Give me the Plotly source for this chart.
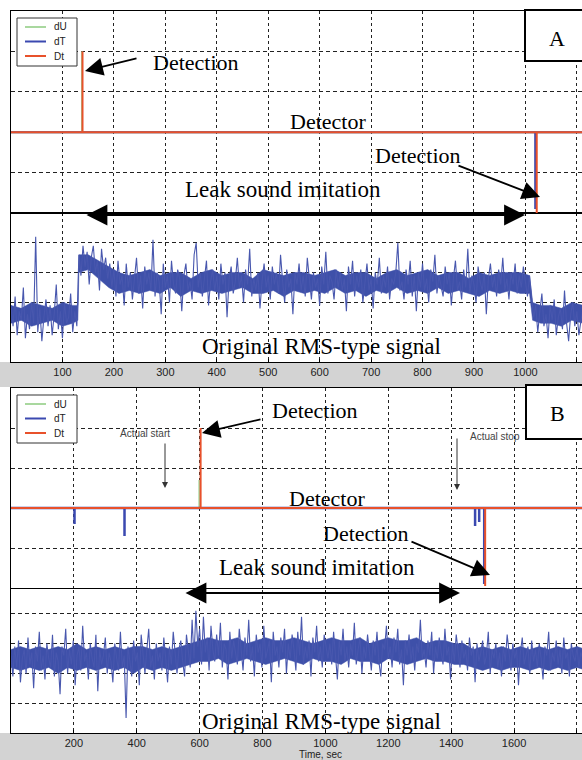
import plotly.graph_objects as go

W, H = 582, 760

# ---------------- DATA ----------------
# Panel A: RMS-type signal sampled every 4 s (normalized units 0..5)
a_time = list(range(0, 1116, 4))
a_signal = (
    [1.9,1.2,2.2,0.9,1.7,1.4,2.5,0.8,1.6,1.1,2.0,1.3,4.2,1.0,1.8,0.7,1.5,2.1,1.2,1.9,0.9,1.6,2.6,1.1,1.7,0.8,2.0,1.3,1.5,2.3,1.0,1.7,1.2]
    + [3.6,2.9,3.9,3.2,3.7,2.6,3.5,3.9,3.0,3.4,2.4,3.8,3.1,3.5,2.8,3.3,2.5]
    + [3.1,2.2,3.4,2.6,2.9,1.9,3.3,2.5,3.0,2.1,
       2.8,3.5,2.3,2.9,1.8,3.2,2.6,3.0,2.4,4.1,
       2.2,3.0,2.7,1.6,3.3,2.5,2.9,2.0,3.4,2.6,
       2.3,3.1,2.8,1.7,2.9,3.3,2.4,2.7,2.1,3.6,
       4.0,2.5,3.0,2.2,2.8,3.4,1.9,2.7,3.1,2.4,
       2.9,2.1,3.3,2.6,3.0,1.5,2.8,3.2,2.3,2.7,
       3.5,2.5,2.9,2.0,3.1,2.6,3.8,2.2,2.8,2.4,
       3.0,1.8,2.7,3.3,2.5,2.9,2.1,3.2,2.6,3.0,
       2.3,3.6,2.7,2.0,3.1,2.5,2.8,1.6,3.0,2.6,
       3.3,2.4,2.9,2.2,3.5,2.7,2.1,3.0,2.5,2.8,
       1.9,3.2,2.6,3.7,2.3,2.9,2.7,2.1,3.1,2.5,
       3.0,2.4,2.8,1.7,3.2,2.6,3.4,2.2,2.9,2.5,
       3.1,2.0,2.7,3.3,2.4,2.8,1.8,3.0,2.6,3.5,
       2.3,2.9,2.5,3.2,2.1,2.8,2.6,3.0,4.0,2.4,
       2.7,2.1,3.1,2.6,3.4,2.2,2.9,1.7,3.0,2.5,
       3.3,2.4,2.8,2.0,3.1,2.7,3.6,2.3,2.9,2.5,
       2.2,3.2,2.6,3.0,1.9,2.8,3.4,2.4,2.7,2.1,
       3.1,2.5,3.8,2.3,2.9,2.6,2.0,3.2,2.7,2.4,
       3.0,1.6,2.8,3.3,2.5,2.9,2.2,3.1,2.6,3.5,
       2.4,2.8,2.1,3.0,2.6,3.3,2.3,2.9,2.5,3.2,
       2.7,2.2,2.9]
    + [2.2,1.5,1.9,1.0,1.7,2.3,1.2,1.6,0.8,1.9,1.4,2.1,0.9,1.5,1.8,1.1,2.4,1.3,0.7,1.6,2.0,1.2,1.7,0.9,1.4,1.8]
)
# Panel A: dense core band of the signal (lower / upper envelope)
a_core_time = ([0, 20, 40, 60, 80, 100, 120, 130, 132, 150, 170, 190]
               + list(range(210, 1000, 20)) + [1008, 1014, 1030, 1050, 1070, 1090, 1112])
a_core_low = ([1.3,1.4,1.2,1.3,1.4,1.2,1.3,1.4, 3.0,3.1,2.8,2.5]
              + [2.3,2.4,2.3,2.4,2.3,2.5,2.2,2.4,2.3,2.4, 2.3,2.4,2.5,2.3,2.3,2.4,2.2,2.4,2.3,2.4,
                 2.3,2.5,2.3,2.4,2.2,2.4,2.3,2.5,2.3,2.4, 2.3,2.5,2.3,2.4,2.3,2.2,2.4,2.3,2.4,2.3]
              + [2.3, 1.4,1.3,1.3,1.2,1.4,1.3])
a_core_high = ([1.9,1.8,2.0,1.9,1.8,2.0,1.9,1.9, 3.6,3.6,3.4,3.2]
               + [3.0,2.9,3.0,3.1,2.9,3.0,3.0,2.8,3.0,3.1, 2.9,3.0,3.0,2.8,3.1,3.0,2.9,3.0,3.0,2.9,
                  3.0,3.1,2.9,3.0,3.0,2.8,3.0,3.1,2.9,3.0, 3.1,2.9,3.0,3.0,2.8,3.0,2.9,3.0,3.0,3.0]
               + [2.9, 2.0,1.9,1.9,1.8,2.0,1.9])

# Panel B: RMS-type signal sampled every 6 s
b_time = list(range(0, 1824, 6))
b_signal = [
    2.6,1.9,2.9,2.2,3.1,1.7,2.5,2.8,2.0,3.2,
    2.3,2.7,1.5,2.9,2.4,3.4,2.1,2.6,1.8,3.0,
    2.5,2.2,3.3,1.9,2.7,2.4,1.3,2.9,2.6,3.5,
    2.0,2.8,2.3,3.1,1.6,2.6,2.9,2.1,3.6,2.4,
    2.7,1.8,3.0,2.5,2.2,3.3,1.4,2.8,2.3,2.6,
    3.2,2.0,2.7,2.4,1.7,3.0,2.5,2.1,3.4,2.2,
    2.6,0.5,2.9,2.3,1.9,3.1,2.4,2.7,1.6,3.3,
    2.5,2.0,2.8,3.5,2.2,2.6,1.8,3.0,2.4,2.7,
    2.1,3.2,2.5,1.7,2.9,2.3,3.4,2.6,2.0,2.8,
    3.1,2.4,1.9,3.3,2.7,2.2,3.8,2.5,4.1,2.9,
    3.5,2.3,3.9,2.7,3.2,2.1,3.6,2.8,2.4,3.3,
    2.6,3.7,2.2,3.0,2.8,1.8,3.4,2.5,3.1,2.7,
    2.3,3.5,2.9,2.1,3.2,2.6,3.8,2.4,2.9,1.9,
    3.3,2.7,3.0,2.2,3.6,2.5,2.8,3.1,1.7,3.4,
    2.6,2.9,2.2,3.2,2.7,3.5,2.0,3.0,2.5,3.3,
    2.8,2.1,3.4,2.6,3.9,2.3,2.9,2.5,3.1,1.9,
    3.2,2.7,3.6,2.4,2.9,2.2,3.3,2.8,2.5,3.0,
    2.3,3.4,2.7,1.8,3.1,2.6,3.5,2.4,2.9,2.2,
    3.0,2.6,3.7,2.3,2.8,3.2,2.0,2.9,2.5,3.3,
    2.7,2.1,3.1,2.6,3.4,2.4,1.9,3.0,2.8,3.6,
    2.5,2.9,2.2,3.2,2.7,3.5,2.3,2.8,1.6,3.1,
    2.6,3.3,2.4,2.9,2.1,3.0,2.7,3.8,2.5,2.8,
    2.2,3.1,2.6,3.4,2.0,2.9,2.5,3.2,2.7,2.3,
    3.5,2.6,2.9,1.8,3.0,2.4,3.3,2.7,2.2,3.1,
    2.5,2.8,2.1,3.2,2.6,2.9,1.7,3.0,2.4,2.7,
    3.1,2.3,2.6,3.4,2.0,2.8,2.5,3.0,2.2,2.7,
    1.9,2.9,2.4,3.3,2.6,2.1,3.0,2.5,2.8,1.6,
    2.7,3.2,2.3,2.6,2.9,2.0,3.1,2.4,2.8,2.2,
    3.0,2.5,1.8,2.9,2.6,3.4,2.1,2.7,2.4,3.1,
    2.3,2.8,2.0,3.2,2.5,2.7,1.9,3.0,2.6,2.4,
    2.9,2.2,2.7,2.5,
]
b_core_time = list(range(0, 1860, 30))
b_core_low = [2.2,2.1,2.2,2.1,2.2,2.0,2.2,2.1,2.2,2.1,2.2,2.1,2.2,2.0,2.2,2.1,2.2,2.1,2.2,2.3,
              2.4,2.4,2.5,2.3,2.4,2.5,2.4,2.3,2.4,2.5,2.4,2.3,2.5,2.4,2.4,2.3,2.5,2.4,2.4,2.3,
              2.5,2.4,2.3,2.4,2.5,2.4,2.4,2.3,2.3,
              2.2,2.1,2.2,2.1,2.2,2.2,2.1,2.2,2.1,2.2,2.1,2.2,2.1]
b_core_high = [2.8,2.9,2.8,2.9,2.8,2.9,2.8,3.0,2.8,2.9,2.8,2.9,2.8,2.9,2.9,2.8,2.9,2.8,2.9,3.0,
               3.1,3.2,3.1,3.1,3.2,3.0,3.1,3.2,3.1,3.1,3.2,3.1,3.0,3.1,3.2,3.1,3.1,3.2,3.0,3.1,
               3.2,3.1,3.1,3.2,3.0,3.1,3.1,3.0,3.0,
               2.8,2.9,2.8,2.9,2.8,2.9,2.8,2.9,2.8,2.9,2.8,2.9,2.8]

# Detector outputs: event times (s) and pulse heights
a_dU_t, a_dU_h = [138], [2.0]
a_dT_t, a_dT_h = [1019], [-1.9]
a_Dt_t, a_Dt_h = [139, 1022], [2.0, -2.0]

b_dU_t, b_dU_h = [599], [0.7]
b_dT_t, b_dT_h = [202, 361, 1476, 1489, 1505], [-0.4, -0.7, -0.45, -0.35, -1.9]
b_Dt_t, b_Dt_h = [603, 1508], [2.0, -1.95]

a_end, b_end = 1200, 2000
a_ticks = [100, 200, 300, 400, 500, 600, 700, 800, 900, 1000, 1100]
b_ticks = [200, 400, 600, 800, 1000, 1200, 1400, 1600, 1800]
legend_names = ["dU", "dT", "Dt"]

# ---------------- HELPERS ----------------
def pulses(times, heights, t_end):
    xs, ys = [0], [0]
    for t, h in zip(times, heights):
        xs += [t, t, t]
        ys += [0, h, 0]
    xs.append(t_end)
    ys.append(0)
    return xs, ys

def px(x):
    return x / W

def py(y):
    return 1 - y / H

C_DU, C_DT, C_DTT = "#a9d89f", "#3b49b0", "#e8512b"
COLORS = {"dU": C_DU, "dT": C_DT, "Dt": C_DTT}
C_SIG = "#3e50a9"
C_SPK = "#4857ae"
GRID = "#222222"
SERIF = "Liberation Serif, Times New Roman, serif"
SANS = "Liberation Sans, Arial, sans-serif"

fig = go.Figure()

def add_signal(t, v, ct, lo, hi, xa, ya):
    fig.add_trace(go.Scatter(x=ct, y=lo, mode="lines", showlegend=False, hoverinfo="skip",
                             line=dict(color=C_SIG, width=0.5), xaxis=xa, yaxis=ya))
    fig.add_trace(go.Scatter(x=ct, y=hi, mode="lines", showlegend=False, hoverinfo="skip",
                             fill="tonexty", fillcolor=C_SIG,
                             line=dict(color=C_SIG, width=0.5), xaxis=xa, yaxis=ya))
    fig.add_trace(go.Scatter(x=t, y=v, mode="lines", showlegend=False,
                             line=dict(color=C_SPK, width=1.1), xaxis=xa, yaxis=ya))

def add_detector(events, t_end, xa, ya, widths):
    for name in legend_names:
        ts, hs = events[name]
        xs, ys = pulses(ts, hs, t_end)
        fig.add_trace(go.Scatter(x=xs, y=ys, mode="lines", name=name, showlegend=False,
                                 line=dict(color=COLORS[name], width=widths[name]),
                                 xaxis=xa, yaxis=ya))

add_detector({"dU": (a_dU_t, a_dU_h), "dT": (a_dT_t, a_dT_h), "Dt": (a_Dt_t, a_Dt_h)},
             a_end, "x", "y2", {"dU": 2, "dT": 2, "Dt": 2})
add_signal(a_time, a_signal, a_core_time, a_core_low, a_core_high, "x", "y")
add_detector({"dU": (b_dU_t, b_dU_h), "dT": (b_dT_t, b_dT_h), "Dt": (b_Dt_t, b_Dt_h)},
             b_end, "x2", "y4", {"dU": 2, "dT": 2.5, "Dt": 2})
add_signal(b_time, b_signal, b_core_time, b_core_low, b_core_high, "x2", "y3")

tickfont = dict(family=SANS, size=11, color="#222")
xcommon = dict(showgrid=True, gridcolor=GRID, griddash="3px,3px", gridwidth=1,
               showline=True, linecolor="black", linewidth=1, mirror="all",
               ticks="inside", ticklen=3, tickcolor="black", zeroline=False,
               tickfont=tickfont, domain=[px(11), 1])
ycommon = dict(showgrid=True, gridcolor=GRID, griddash="4px,3px", gridwidth=1,
               showline=True, linecolor="black", linewidth=1, mirror=False,
               ticks="", showticklabels=False, zeroline=False)

fig.update_layout(
    width=W, height=H, margin=dict(l=0, r=0, t=0, b=0),
    paper_bgcolor="white", plot_bgcolor="white", showlegend=False,
    xaxis=dict(xcommon, range=[0, 1110], tickvals=a_ticks, anchor="y"),
    yaxis=dict(ycommon, domain=[py(362), py(213)], range=[0, 5], tickvals=[1, 2, 3, 4], anchor="x"),
    yaxis2=dict(ycommon, domain=[py(213), py(11)], range=[-2, 3], tickvals=[-1, 0, 1, 2], anchor="x"),
    xaxis2=dict(xcommon, range=[0, 1816], tickvals=b_ticks, anchor="y3"),
    yaxis3=dict(ycommon, domain=[py(733), py(584)], range=[0, 5], tickvals=[1, 2, 3, 4], anchor="x2"),
    yaxis4=dict(ycommon, domain=[py(588), py(388)], range=[-2, 3], tickvals=[-1, 0, 1, 2], anchor="x2"),
)

# grey figure bands under the time axes
for y0, y1 in [(362, 387), (733, 760)]:
    fig.add_shape(type="rect", xref="paper", yref="paper", x0=0, x1=1, y0=py(y1), y1=py(y0),
                  fillcolor="#d3d3d3", line=dict(width=0), layer="below")

# panel label boxes
for (x0, y0, y1) in [(525, 10, 61), (526, 385, 439)]:
    fig.add_shape(type="rect", xref="paper", yref="paper", x0=px(x0), x1=1.1, y0=py(y1), y1=py(y0),
                  fillcolor="white", line=dict(color="black", width=2), layer="above")

# legends (MATLAB style boxes)
for (bx, by) in [(17, 18), (17, 395)]:
    fig.add_shape(type="rect", xref="paper", yref="paper", x0=px(bx), x1=px(bx + 60),
                  y0=py(by + 48), y1=py(by), fillcolor="white",
                  line=dict(color="#333", width=1), layer="above")
    for i, name in enumerate(legend_names):
        yy = by + 9 + 14.5 * i
        fig.add_shape(type="line", xref="paper", yref="paper", x0=px(bx + 8), x1=px(bx + 29),
                      y0=py(yy), y1=py(yy), line=dict(color=COLORS[name], width=2), layer="above")
        fig.add_annotation(xref="paper", yref="paper", x=px(bx + 35), y=py(yy), text=name,
                           showarrow=False, xanchor="left", yanchor="middle",
                           font=dict(family=SANS, size=10, color="#222"))

def text(x, y, s, size=22, color="black", family=SERIF):
    fig.add_annotation(xref="paper", yref="paper", x=px(x), y=py(y), text=s, showarrow=False,
                       xanchor="center", yanchor="middle",
                       font=dict(family=family, size=size, color=color))

def arrow(hx, hy, tx, ty, width=1.8, size=2.0, head=2, side="end", color="black"):
    fig.add_annotation(xref="paper", yref="paper", x=px(hx), y=py(hy), text="",
                       showarrow=True, ax=tx - hx, ay=ty - hy, arrowhead=head,
                       arrowsize=size, arrowwidth=width, arrowcolor=color, arrowside=side)

# Panel A texts
text(196, 62, "Detection")
arrow(85, 71, 138, 58)
text(328, 121, "Detector")
text(418, 155, "Detection")
arrow(540, 197, 457, 165)
text(283, 189, "Leak sound imitation", size=23)
arrow(525, 215, 85, 215, width=2.2, size=1.9, side="end+start")
text(321, 347, "Original RMS-type signal", size=23)
text(557, 38, "A")

# Panel B texts
text(315, 411, "Detection")
arrow(202, 433, 262, 419)
text(145, 433, "Actual start", size=10, color="#444", family=SANS)
arrow(165, 488, 165, 442, width=1, size=1.2, color="#333")
text(495, 436, "Actual stop", size=10, color="#444", family=SANS)
arrow(457, 490, 457, 437, width=1, size=1.2, color="#333")
text(327, 498, "Detector")
text(366, 533, "Detection")
arrow(490, 575, 410, 541)
text(317, 567, "Leak sound imitation", size=23)
arrow(460, 593, 184, 593, width=2.2, size=1.9, side="end+start")
text(321, 721, "Original RMS-type signal", size=23)
text(557, 413, "B")
text(320, 754, "Time, sec", size=10, color="#222", family=SANS)

fig.write_html("out.html", config={"displayModeBar": False},
               post_script="document.body.style.margin='0px';")
